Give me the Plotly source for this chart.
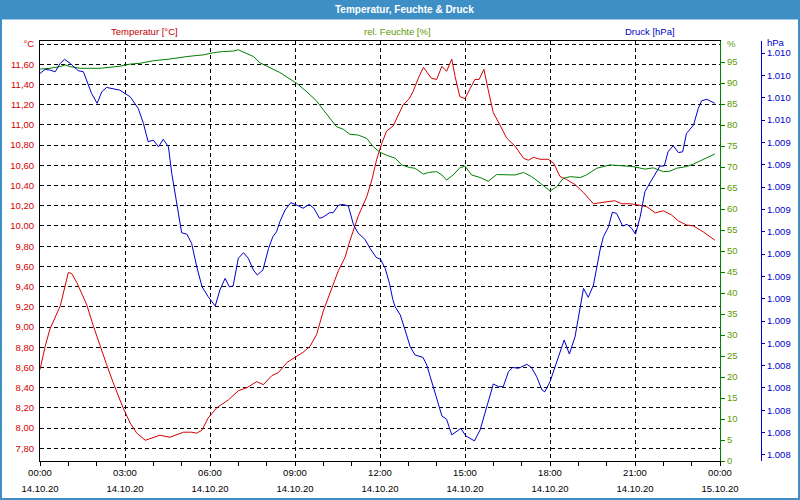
import pandas as pd
import plotly.graph_objects as go

DAY = "2020-10-14"

# --- data (minutes after 00:00 on 14.10.20) ---
temp_min = [0, 11, 21, 43, 60, 67, 78, 99, 113, 127, 141, 155, 166, 176, 191, 205, 223, 240, 254, 275,
            304, 321, 332, 343, 356, 374, 399, 420, 438, 459, 473, 491, 505, 523, 544, 557, 572, 586, 600, 618,
            632, 646, 656, 674, 692, 703, 713, 724, 734, 748, 759, 769, 782, 790, 801, 812, 829, 840, 851, 861,
            872, 879, 889, 900, 911, 921, 930, 940, 949, 960, 974, 988, 1006, 1024, 1034, 1045, 1059, 1076, 1088, 1101,
            1115, 1133, 1151, 1172, 1186, 1204, 1217, 1232, 1249, 1264, 1285, 1303, 1320, 1337, 1352, 1369, 1384, 1405, 1419, 1429]
temp_val = [8.58, 8.81, 8.98, 9.21, 9.54, 9.53, 9.44, 9.22, 9.01, 8.81, 8.63, 8.45, 8.32, 8.20, 8.05, 7.95, 7.88, 7.91, 7.93, 7.91,
            7.96, 7.96, 7.95, 7.98, 8.10, 8.20, 8.28, 8.37, 8.40, 8.46, 8.43, 8.52, 8.55, 8.65, 8.71, 8.75, 8.81, 8.93, 9.16, 9.39,
            9.56, 9.69, 9.85, 10.10, 10.29, 10.46, 10.66, 10.82, 10.94, 10.99, 11.10, 11.20, 11.26, 11.33, 11.46, 11.57, 11.46, 11.45, 11.58, 11.53,
            11.65, 11.48, 11.28, 11.26, 11.36, 11.45, 11.45, 11.55, 11.35, 11.12, 11.00, 10.87, 10.79, 10.67, 10.65, 10.68, 10.66, 10.66, 10.62, 10.49,
            10.46, 10.41, 10.33, 10.22, 10.23, 10.24, 10.25, 10.22, 10.22, 10.21, 10.19, 10.13, 10.15, 10.11, 10.05, 10.01, 10.00, 9.94, 9.89, 9.86]

hum_min = [0, 21, 43, 53, 64, 85, 127, 148, 169, 191, 212, 240, 275, 311, 346, 367, 388, 409, 420, 434,
           452, 466, 487, 508, 523, 544, 565, 586, 600, 614, 628, 642, 656, 674, 692, 706, 720, 734, 752, 766,
           782, 794, 812, 823, 840, 851, 861, 875, 889, 900, 914, 932, 949, 967, 988, 1006, 1024, 1041, 1059, 1080,
           1094, 1108, 1123, 1144, 1157, 1179, 1207, 1228, 1256, 1281, 1299, 1320, 1334, 1348, 1369, 1384, 1405, 1429]
hum_val = [93.3, 93.5, 93.9, 94.3, 93.9, 93.5, 93.5, 93.7, 94.0, 94.5, 94.7, 95.3, 95.7, 96.3, 96.7, 97.2, 97.5, 97.6, 97.9, 97.2,
           96.3, 94.8, 93.7, 92.5, 91.4, 89.9, 87.9, 85.7, 83.6, 81.6, 79.6, 79.0, 77.8, 77.6, 76.8, 74.8, 73.5, 72.8, 72.1, 70.5,
           69.9, 69.7, 68.3, 68.7, 68.9, 68.1, 66.9, 68.1, 69.8, 70.2, 68.1, 67.5, 66.6, 68.2, 68.2, 68.1, 68.7, 67.7, 66.2, 64.3,
           65.3, 67.3, 67.7, 67.5, 68.1, 69.7, 70.5, 70.3, 70.1, 69.5, 69.8, 68.9, 69.0, 69.7, 70.1, 70.7, 71.8, 73.1]

pres_min = [0, 11, 21, 32, 43, 52, 64, 81, 92, 99, 109, 121, 131, 141, 155, 169, 191, 208, 219, 229,
            240, 251, 261, 272, 279, 289, 300, 311, 321, 332, 343, 356, 371, 381, 392, 401, 409, 420, 431, 441,
            452, 460, 472, 484, 493, 501, 508, 519, 531, 544, 557, 570, 580, 592, 601, 613, 621, 632, 642, 653,
            664, 674, 688, 699, 712, 721, 731, 740, 747, 752, 763, 773, 784, 794, 811, 819, 829, 839, 851, 861,
            872, 891, 902, 920, 932, 944, 960, 971, 981, 992, 1001, 1013, 1031, 1041, 1052, 1063, 1069, 1080, 1094, 1110,
            1121, 1133, 1151, 1161, 1172, 1186, 1193, 1204, 1212, 1221, 1234, 1243, 1253, 1261, 1271, 1281, 1295, 1306, 1313, 1322,
            1330, 1341, 1352, 1361, 1369, 1384, 1394, 1401, 1412, 1429]
pres_val = [1009.709, 1009.727, 1009.724, 1009.716, 1009.754, 1009.772, 1009.754, 1009.721, 1009.716, 1009.679,
            1009.620, 1009.575, 1009.627, 1009.646, 1009.639, 1009.634, 1009.604, 1009.552, 1009.485, 1009.403,
            1009.410, 1009.380, 1009.414, 1009.380, 1009.261, 1009.127, 1008.995, 1008.989, 1008.948, 1008.843,
            1008.754, 1008.709, 1008.667, 1008.739, 1008.791, 1008.753, 1008.757, 1008.881, 1008.906, 1008.881,
            1008.828, 1008.806, 1008.828, 1008.925, 1008.977, 1009.000, 1009.045, 1009.097, 1009.130, 1009.119,
            1009.105, 1009.122, 1009.105, 1009.060, 1009.067, 1009.085, 1009.085, 1009.119, 1009.122, 1009.115,
            1009.030, 1008.993, 1008.966, 1008.925, 1008.885, 1008.876, 1008.836, 1008.769, 1008.697, 1008.664,
            1008.627, 1008.560, 1008.485, 1008.448, 1008.437, 1008.403, 1008.336, 1008.261, 1008.175, 1008.160,
            1008.090, 1008.119, 1008.085, 1008.063, 1008.112, 1008.201, 1008.318, 1008.306, 1008.306, 1008.373,
            1008.392, 1008.388, 1008.406, 1008.391, 1008.350, 1008.291, 1008.283, 1008.328, 1008.418, 1008.515,
            1008.452, 1008.529, 1008.746, 1008.706, 1008.761, 1008.918, 1008.977, 1009.022, 1009.087, 1009.082,
            1009.025, 1009.033, 1009.015, 1008.989, 1009.067, 1009.179, 1009.231, 1009.268, 1009.294, 1009.294,
            1009.358, 1009.385, 1009.354, 1009.358, 1009.440, 1009.478, 1009.552, 1009.586, 1009.593, 1009.575]

# --- ticks ---
x_tick_hours = [0, 3, 6, 9, 12, 15, 18, 21, 24]
temp_tickvals = [7.8, 8.0, 8.2, 8.4, 8.6, 8.8, 9.0, 9.2, 9.4, 9.6, 9.8, 10.0, 10.2, 10.4, 10.6, 10.8, 11.0, 11.2, 11.4, 11.6, 11.8]
hum_tickvals = [0, 5, 10, 15, 20, 25, 30, 35, 40, 45, 50, 55, 60, 65, 70, 75, 80, 85, 90, 95]
pres_tickvals = [1008.0, 1008.1, 1008.2, 1008.3, 1008.4, 1008.5, 1008.6, 1008.7, 1008.8, 1008.9,
                 1009.0, 1009.1, 1009.2, 1009.3, 1009.4, 1009.5, 1009.6, 1009.7, 1009.8]

temp_range = [7.675, 11.83]
hum_range = [0, 100]
pres_range = [1007.973, 1009.854]

FONT = "Liberation Sans, Arial, sans-serif"
FS = 9.5
C_T = "#d40000"
C_H = "#008000"
C_HT = "#5c9a00"
C_P = "#0000cc"
BLUE = "#3d8fc6"

base = pd.Timestamp(DAY)
def ts(mins):
    return [base + pd.Timedelta(minutes=m) for m in mins]

temp_text = [f"{v:.2f}".replace(".", ",") for v in temp_tickvals]
temp_text[-1] = "°C"
hum_text = [str(v) for v in hum_tickvals]
def de_thousands(v):
    n = int(v + 0.5 + 1e-9)
    return f"{n:,}".replace(",", ".")
pres_text = [de_thousands(v) for v in pres_tickvals]

x_tickvals = [base + pd.Timedelta(hours=h) for h in x_tick_hours]
span = f"<span style='font-size:{FS}px'>"
x_ticktext = [f"{span}{t:%H:%M}</span><br>{span}{t:%d.%m.%y}</span>" for t in x_tickvals]

fig = go.Figure()
fig.add_trace(go.Scatter(x=ts(temp_min), y=temp_val, mode="lines", line=dict(color=C_T, width=1),
                         name="Temperatur [°C]", yaxis="y"))
fig.add_trace(go.Scatter(x=ts(hum_min), y=hum_val, mode="lines", line=dict(color=C_H, width=1),
                         name="rel. Feuchte [%]", yaxis="y2"))
fig.add_trace(go.Scatter(x=ts(pres_min), y=pres_val, mode="lines", line=dict(color=C_P, width=1),
                         name="Druck [hPa]", yaxis="y3"))

W, H = 800, 500
L, R, T, B = 40, 30, 41, 39
PLOT_RIGHT = 720
pw, ph = W - L - R, H - T - B
def px(x):
    return (x - L) / pw
def py(y):
    return (H - B - y) / ph

fig.update_layout(
    width=W, height=H,
    margin=dict(l=L, r=R, t=T, b=B, pad=0, autoexpand=False),
    paper_bgcolor="white", plot_bgcolor="white",
    showlegend=False,
    font=dict(family=FONT, size=FS, color="black"),
    xaxis=dict(
        domain=[0, px(PLOT_RIGHT)], automargin=False,
        type="date", range=[base, base + pd.Timedelta(hours=24)],
        tickmode="array", tickvals=x_tickvals, ticktext=x_ticktext,
        tickfont=dict(size=12, color="black", family=FONT),
        ticks="outside", ticklen=4, tickcolor="black", ticklabelstandoff=-4,
        minor=dict(tickmode="linear", tick0=base, dtick=3600000, ticks="outside", ticklen=4,
                   tickcolor="black", showgrid=False),
        showgrid=True, gridcolor="black", gridwidth=1, griddash="4px,3px",
        showline=True, linecolor="black", linewidth=1, mirror=True,
        zeroline=False,
    ),
    yaxis=dict(
        automargin=False,
        range=temp_range, tickmode="array", tickvals=temp_tickvals, ticktext=temp_text,
        tickfont=dict(color=C_T, size=FS), ticks="", ticklabelstandoff=3,
        showgrid=True, gridcolor="black", gridwidth=1, griddash="4px,3px",
        showline=True, linecolor="black", linewidth=1, zeroline=False,
    ),
    yaxis2=dict(
        automargin=False,
        range=hum_range, overlaying="y", side="right", anchor="x",
        tickmode="array", tickvals=hum_tickvals, ticktext=hum_text,
        tickfont=dict(color=C_HT, size=FS), ticks="outside", ticklen=4, tickcolor=C_H,
        showgrid=False, showline=True, linecolor=C_H, linewidth=1, zeroline=False,
    ),
    yaxis3=dict(
        automargin=False,
        range=pres_range, overlaying="y", side="right", anchor="free", position=px(761),
        tickmode="array", tickvals=pres_tickvals, ticktext=pres_text,
        tickfont=dict(color=C_P, size=FS), ticks="outside", ticklen=3, tickcolor=C_P,
        showgrid=False, showline=True, linecolor=C_P, linewidth=1, zeroline=False,
    ),
    shapes=[
        dict(type="rect", xref="paper", yref="paper", x0=px(0), x1=px(800), y0=py(19.5), y1=py(0),
             fillcolor=BLUE, line=dict(width=0), layer="above"),
        dict(type="rect", xref="paper", yref="paper", x0=px(1), x1=px(799), y0=py(499), y1=py(1),
             fillcolor="rgba(0,0,0,0)", line=dict(color=BLUE, width=2), layer="above"),
    ],
    annotations=[
        dict(text="<b>Temperatur, Feuchte &amp; Druck</b>", xref="paper", yref="paper", x=px(404), y=py(9),
             showarrow=False, font=dict(color="white", size=10, family=FONT), xanchor="center", yanchor="middle"),
        dict(text="Temperatur [°C]", xref="paper", yref="paper", x=px(144), y=py(31),
             showarrow=False, font=dict(color="#c00000", size=FS), xanchor="center", yanchor="middle"),
        dict(text="rel. Feuchte [%]", xref="paper", yref="paper", x=px(397), y=py(31),
             showarrow=False, font=dict(color=C_HT, size=FS), xanchor="center", yanchor="middle"),
        dict(text="Druck [hPa]", xref="paper", yref="paper", x=px(650), y=py(31),
             showarrow=False, font=dict(color=C_P, size=FS), xanchor="center", yanchor="middle"),
        dict(text="%", xref="paper", yref="paper", x=px(725), y=py(44),
             showarrow=False, font=dict(color=C_HT, size=FS), xanchor="left", yanchor="middle"),
        dict(text="hPa", xref="paper", yref="paper", x=px(765), y=py(43),
             showarrow=False, font=dict(color=C_P, size=FS), xanchor="left", yanchor="middle"),
    ],
)

fig.write_html("out.html")
